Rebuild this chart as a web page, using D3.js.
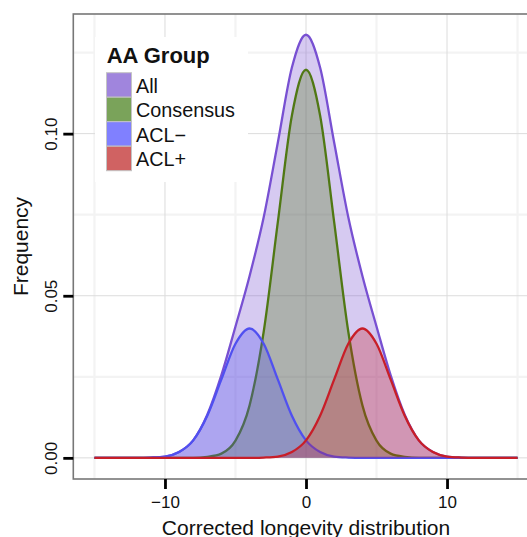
<!DOCTYPE html>
<html><head><meta charset="utf-8">
<script src="https://cdn.jsdelivr.net/npm/d3@7"></script>
<style>
body{margin:0;background:#fff}
svg{display:block}
text{font-family:"Liberation Sans",Arial,Helvetica,sans-serif;fill:#111}
</style>
</head><body>
<svg id="chart" width="527" height="537"></svg>
<script>
// ---------- data ----------
const xGrid = [-15,-14,-13,-12,-11,-10,-9,-8,-7,-6,-5,-4,-3,-2,-1,0,1,2,3,4,5,6,7,8,9,10,11,12,13,14,15];
const groups = ["All","Consensus","ACL\u2212","ACL+"];
const allValues = [0,0,0,0,0.0001,0.0004,0.0018,0.0054,0.0133,0.0255,0.0405,0.0561,0.0742,0.0972,0.1204,0.1305,0.1204,0.0972,0.0742,0.0561,0.0405,0.0255,0.0133,0.0054,0.0018,0.0004,0.0001,0,0,0,0];
const consensusValues = [0,0,0,0,0,0,0,0,0.0003,0.0013,0.0053,0.0162,0.0389,0.0726,0.1056,0.1197,0.1056,0.0726,0.0389,0.0162,0.0053,0.0013,0.0003,0,0,0,0,0,0,0,0];
const aclMinusValues = [0,0,0,0,0.0001,0.0004,0.0018,0.0054,0.0130,0.0242,0.0352,0.0399,0.0352,0.0242,0.0130,0.0054,0.0018,0.0004,0.0001,0,0,0,0,0,0,0,0,0,0,0,0];
const aclPlusValues = [0,0,0,0,0,0,0,0,0,0,0,0,0.0001,0.0004,0.0018,0.0054,0.0130,0.0242,0.0352,0.0399,0.0352,0.0242,0.0130,0.0054,0.0018,0.0004,0.0001,0,0,0,0];
const xTicks = [-10,0,10];
const xTickLabels = ["\u221210","0","10"];
const yTicks = [0,0.05,0.10];
const yTickLabels = ["0.00","0.05","0.10"];
const xMinor = [-15,-5,5,15];
const yMinor = [0.025,0.075,0.125];
const legendTitle = "AA Group";
const xTitle = "Corrected longevity distribution";
const yTitle = "Frequency";

// ---------- styling ----------
const strokeColors = ["#7850d2","#507814","#5050f0","#c81e28"];
const keyColors = ["#a085dd","#7aa35a","#8080ff","#d06262"];
const seriesValues = [allValues, consensusValues, aclMinusValues, aclPlusValues];

const svg = d3.select("#chart");
const pL = 73.3, pR = 538.7, pT = 14, pB = 479;
const x = d3.scaleLinear().domain([-16.5,16.5]).range([pL,pR]);
const y = d3.scaleLinear().domain([-0.00652,0.1369]).range([pB,pT]);

svg.append("defs").append("clipPath").attr("id","clip")
  .append("rect").attr("x",pL).attr("y",pT).attr("width",pR-pL).attr("height",pB-pT);

const panel = svg.append("g").attr("clip-path","url(#clip)");
panel.append("rect").attr("x",pL).attr("y",pT).attr("width",pR-pL).attr("height",pB-pT).attr("fill","#fff");

// minor grid
panel.selectAll(".vminor").data(xMinor).enter().append("line")
  .attr("x1",d=>x(d)).attr("x2",d=>x(d)).attr("y1",pT).attr("y2",pB)
  .attr("stroke","#f3f3f3").attr("stroke-width",2.2);
panel.selectAll(".hminor").data(yMinor).enter().append("line")
  .attr("y1",d=>y(d)).attr("y2",d=>y(d)).attr("x1",pL).attr("x2",pR)
  .attr("stroke","#f3f3f3").attr("stroke-width",2.2);
// major grid
panel.selectAll(".vmajor").data(xTicks).enter().append("line")
  .attr("x1",d=>x(d)).attr("x2",d=>x(d)).attr("y1",pT).attr("y2",pB)
  .attr("stroke","#dcdcdc").attr("stroke-width",1);
panel.selectAll(".hmajor").data(yTicks).enter().append("line")
  .attr("y1",d=>y(d)).attr("y2",d=>y(d)).attr("x1",pL).attr("x2",pR)
  .attr("stroke","#dcdcdc").attr("stroke-width",1);

// densities
const area = d3.area().x(d=>x(d[0])).y0(y(0)).y1(d=>y(d[1])).curve(d3.curveMonotoneX);
const line = d3.line().x(d=>x(d[0])).y(d=>y(d[1])).curve(d3.curveMonotoneX);
seriesValues.forEach((vals,i)=>{
  const pts = xGrid.map((xv,j)=>[xv, vals[j]]);
  panel.append("path").datum(pts).attr("d",area)
    .attr("fill",strokeColors[i]).attr("fill-opacity",0.3).attr("stroke","none");
  panel.append("path").datum(pts).attr("d",line)
    .attr("fill","none").attr("stroke",strokeColors[i]).attr("stroke-width",2.3);
});

// legend
const lg = svg.append("g");
lg.append("rect").attr("x",95).attr("y",37).attr("width",153).attr("height",145).attr("fill","#fff");
lg.append("text").attr("x",106.7).attr("y",63.3).attr("font-size",22).attr("font-weight","bold").text(legendTitle);
groups.forEach((g,i)=>{
  lg.append("rect").attr("x",106.5).attr("y",72.7+i*24.5).attr("width",25).attr("height",24.5)
    .attr("fill",keyColors[i]).attr("stroke","#c4c4c4").attr("stroke-width",1);
  lg.append("text").attr("x",136).attr("y",92.7+i*24.5).attr("font-size",19.8).text(g);
});

// panel border
svg.append("rect").attr("x",pL).attr("y",pT).attr("width",pR-pL).attr("height",pB-pT)
  .attr("fill","none").attr("stroke","#777").attr("stroke-width",1.6);

// axes
const yAxis = svg.append("g").attr("transform",`translate(${pL},0)`)
  .call(d3.axisLeft(y).tickValues(yTicks).tickSize(10).tickFormat((d,i)=>yTickLabels[i]));
yAxis.select(".domain").remove();
yAxis.selectAll(".tick line").attr("stroke","#000").attr("stroke-width",2.8);
yAxis.selectAll(".tick text").attr("x",0).attr("dy",0).attr("text-anchor","middle")
  .attr("transform","translate(-16.3,0) rotate(-90)").attr("font-size",17).attr("fill","#111")
  .style("font-family",'"Liberation Sans",Arial,sans-serif');

const xAxis = svg.append("g").attr("transform",`translate(0,${pB})`)
  .call(d3.axisBottom(x).tickValues(xTicks).tickSize(10).tickFormat((d,i)=>xTickLabels[i]));
xAxis.select(".domain").remove();
xAxis.selectAll(".tick line").attr("stroke","#000").attr("stroke-width",2.8);
xAxis.selectAll(".tick text").attr("y",28.7).attr("dy",0).attr("font-size",17).attr("fill","#111")
  .style("font-family",'"Liberation Sans",Arial,sans-serif');

// titles
svg.append("text").attr("x",(pL+pR)/2).attr("y",534.5).attr("text-anchor","middle")
  .attr("font-size",21).text(xTitle);
svg.append("text").attr("transform",`translate(28,${(pT+pB)/2}) rotate(-90)`).attr("text-anchor","middle")
  .attr("font-size",21).text(yTitle);
</script>
</body></html>
